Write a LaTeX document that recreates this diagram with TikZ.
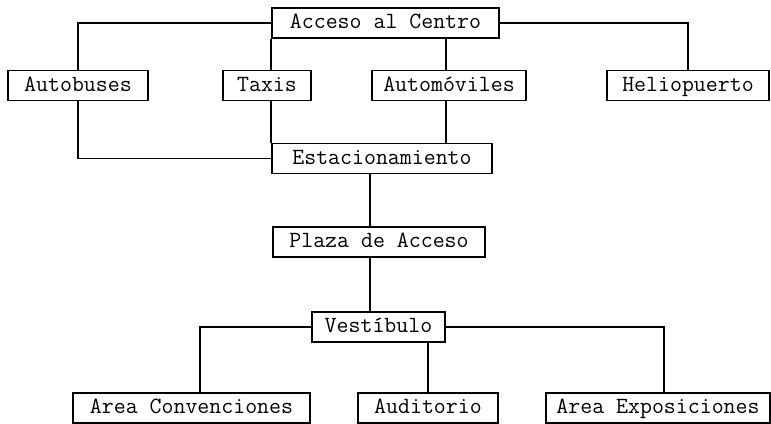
\documentclass[tikz,border=0pt]{standalone}
\usepackage{fontspec}
\usepackage{tikz}
\tikzset{%
	box/.style      = {draw, rectangle, minimum height = 15pt, inner sep = 0pt, text height = 7.5pt, text depth = 2pt, font = \ttfamily\fontsize{11.6}{13}\selectfont}, % Area
	waypoint/.style = {coordinate}, % Bend
}

\begin{document}
\begin{tikzpicture}[x = 0.5pt, y = -0.5pt, line width = 0.8pt]
	\useasboundingbox (0,0) rectangle (771,423);
	\node[box, minimum width = 113.5pt] (acc) at (385.5,23) {Acceso al Centro};
	\node[box, minimum width = 70pt] (bus) at (78,85.5) {Autobuses};
	\node[box, minimum width = 44pt] (taxi) at (267,85.5) {Taxis};
	\node[box, minimum width = 77pt] (auto) at (449,85.5) {Automóviles};
	\node[box, minimum width = 81pt] (helio) at (688,85.5) {Heliopuerto};
	\node[box, minimum width = 110pt] (est) at (382,158.5) {Estacionamiento};
	\node[box, minimum width = 106pt] (plaza) at (379,242) {Plaza de Acceso};
	\node[box, minimum width = 66.5pt] (vest) at (378.5,327) {Vestíbulo};
	\node[box, minimum width = 118.5pt] (conv) at (191.5,408) {Area Convenciones};
	\node[box, minimum width = 70pt] (aud) at (428,408) {Auditorio};
	\node[box, minimum width = 112pt] (expo) at (658,408) {Area Exposiciones};
	\node[waypoint] (spine) at (370,0) {};
	% accesos
	\draw (acc.west) -| (bus.north);
	\draw (acc.east) -| (helio.north);
	\draw (acc.south west) -- (acc.south west |- taxi.north);
	\draw (acc.south west |- taxi.south) -- (est.north west);
	\draw (auto.north -| 446,0) -- (acc.south -| 446,0);
	\draw (auto.south -| 446,0) -- (est.north -| 446,0);
	\draw (bus.south) |- (est.west);
	% eje central
	\draw (est.south -| spine) -- (plaza.north -| spine);
	\draw (plaza.south -| spine) -- (vest.north -| spine);
	% salas
	\draw (vest.west) -| ([xshift = 4.25pt]conv.north);
	\draw (aud.north) -- (aud.north |- vest.south);
	\draw (vest.east) -| ([xshift = 3pt]expo.north);
\end{tikzpicture}
\end{document}
